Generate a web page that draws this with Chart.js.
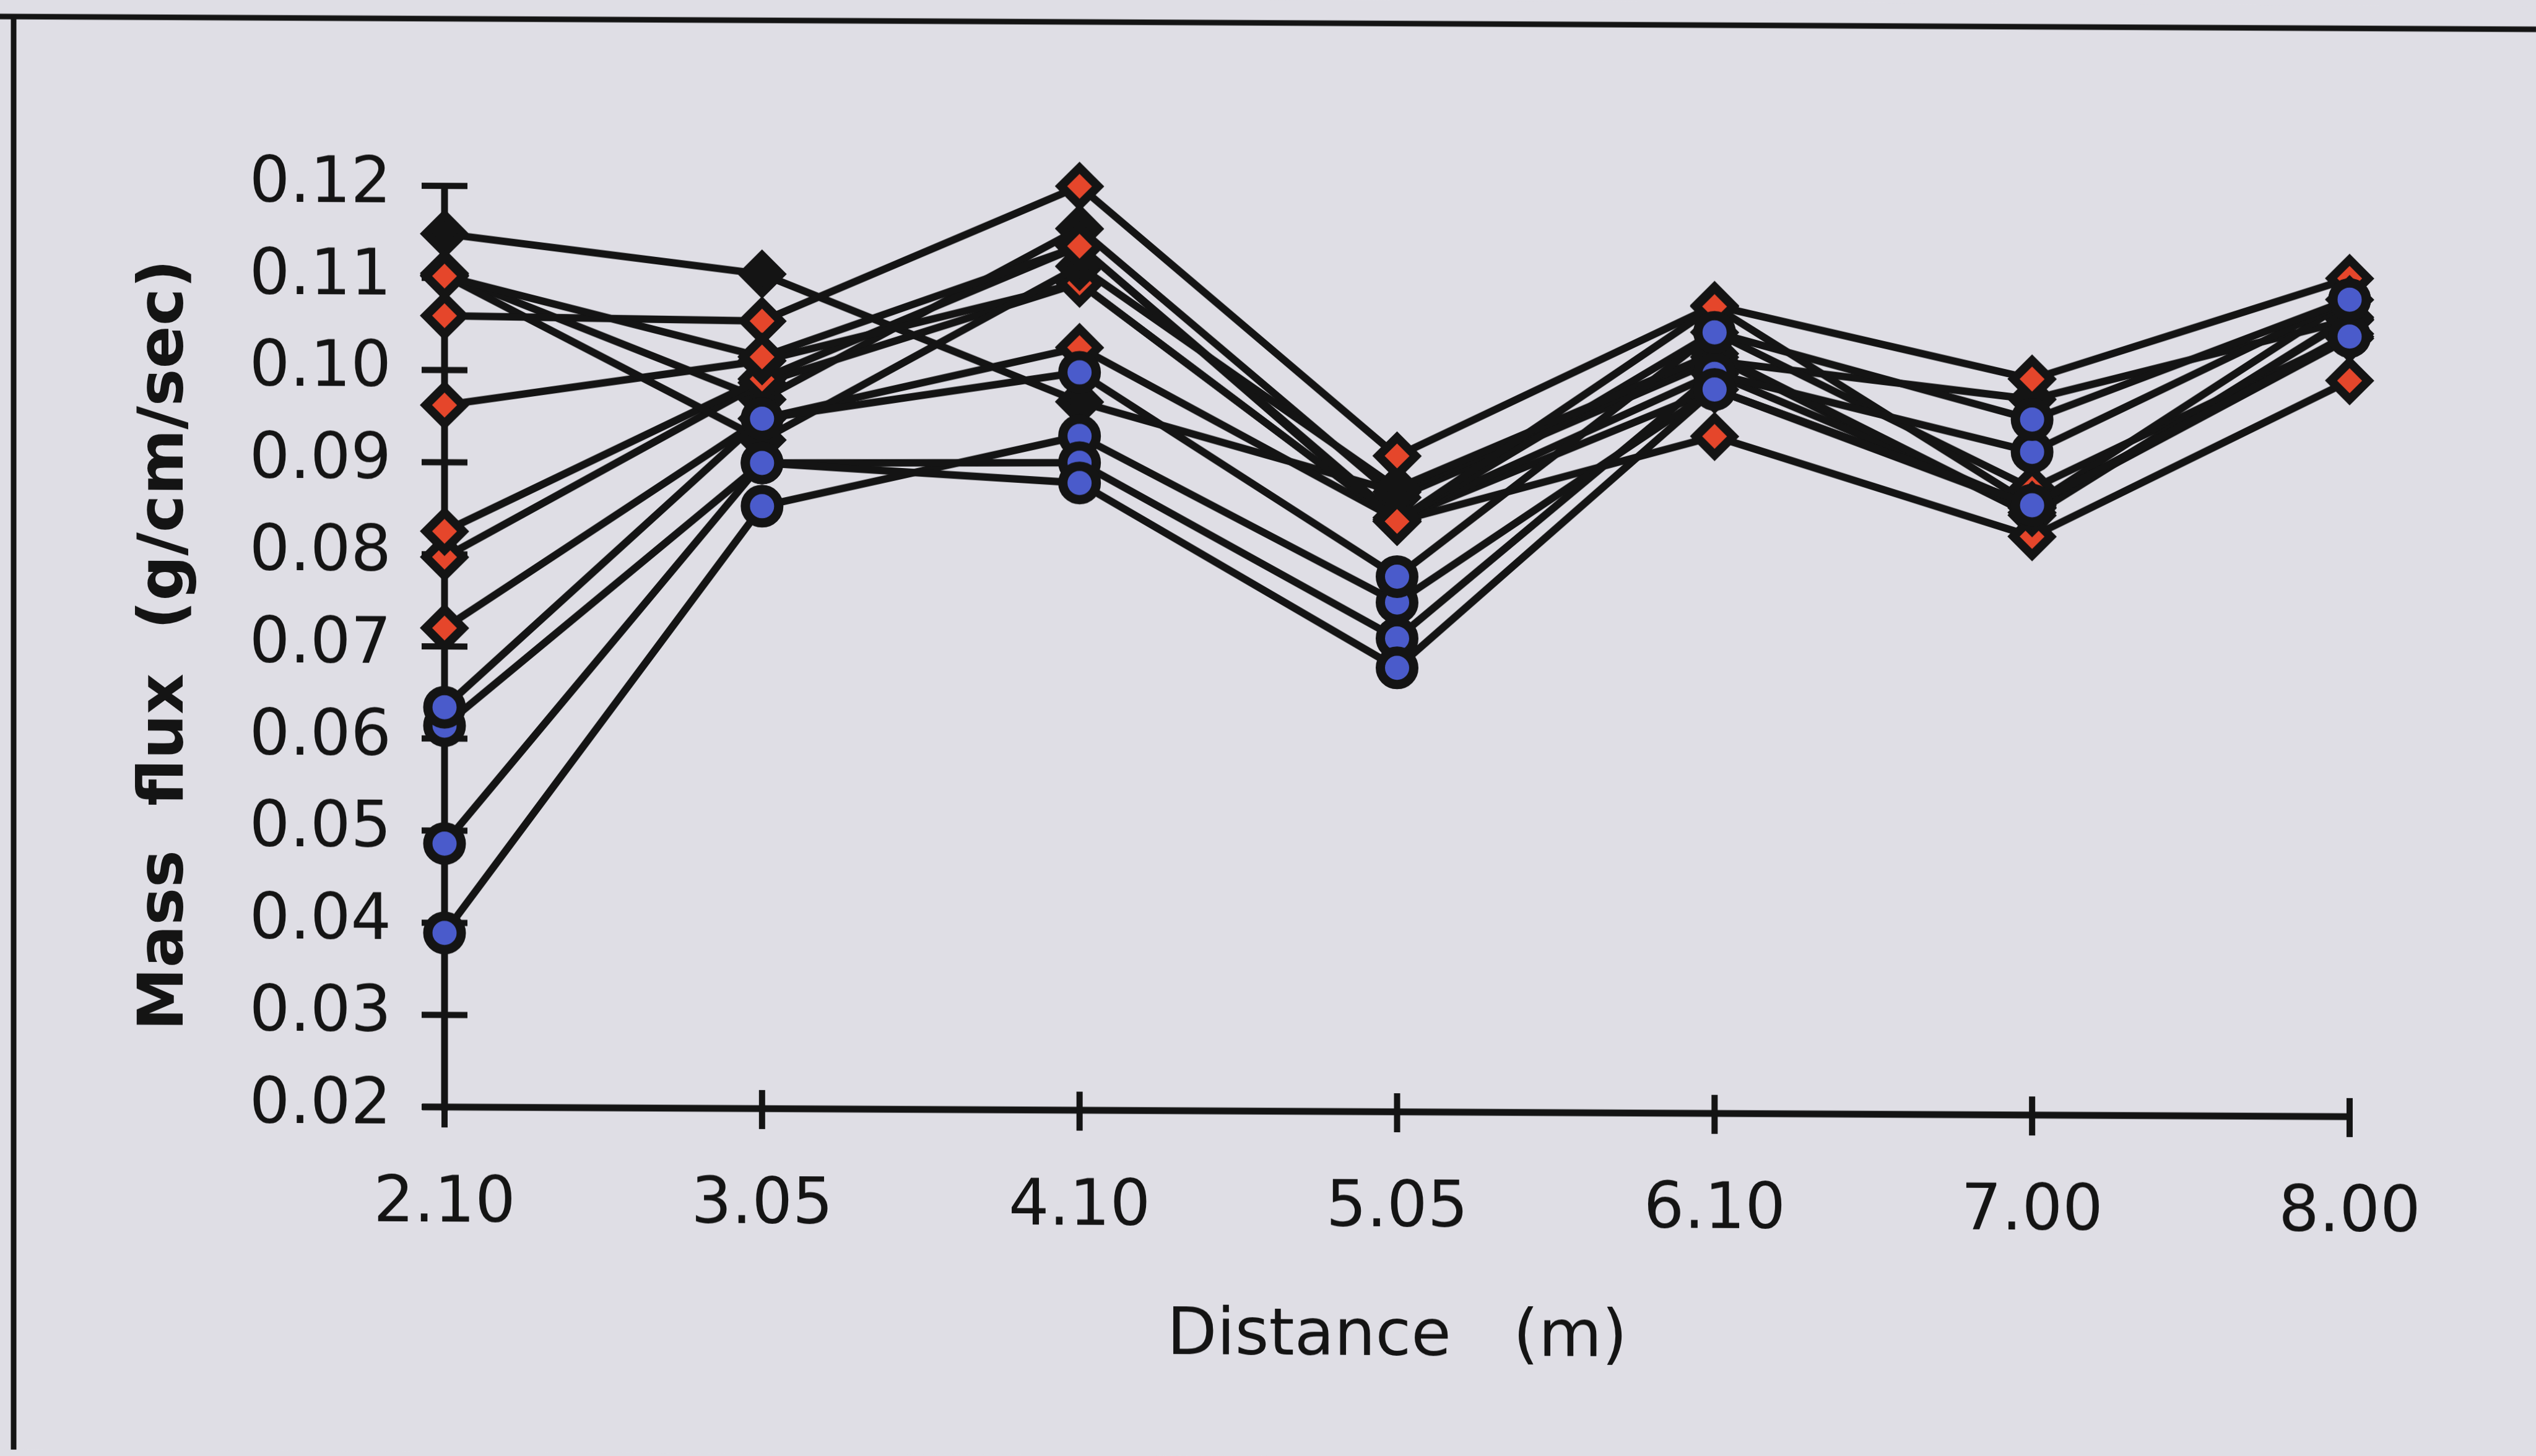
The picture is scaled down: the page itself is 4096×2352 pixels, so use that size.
<!DOCTYPE html>
<html>
<head>
<meta charset="utf-8">
<title>Mass flux vs distance</title>
<script src="https://cdn.jsdelivr.net/npm/chart.js@4.4.1/dist/chart.umd.min.js"></script>
<style>
  html, body { margin: 0; padding: 0; background: #dfdee5; overflow: hidden; }
  #sheet { width: 4096px; height: 2352px; transform: skewY(0.29deg); transform-origin: 50% 50%; }
  canvas { display: block; }
</style>
</head>
<body>
<div id="sheet"><canvas id="chart" width="4096" height="2352"></canvas></div>
<script>
// Distance stations along the bed (m)
const distanceLabels = ['2.10', '3.05', '4.10', '5.05', '6.10', '7.00', '8.00'];

// Mass-flux axis ticks (g/cm/sec)
const yTickValues = [0.02, 0.03, 0.04, 0.05, 0.06, 0.07, 0.08, 0.09, 0.10, 0.11, 0.12];

// Runs plotted with blue circles
const blue1 = [0.0634, 0.0949, 0.1001, 0.0781, 0.1048, 0.0955, 0.1087];
const blue2 = [0.0614, 0.0901, 0.0881, 0.0682, 0.0986, 0.0862, 0.1047];
const blue3 = [0.0486, 0.0901, 0.0903, 0.0714, 0.1003, 0.0920, 0.1087];
const blue4 = [0.0389, 0.0854, 0.0932, 0.0753, 0.0986, 0.0862, 0.1047];

// Runs plotted with red diamonds
const red1 = [0.1102, 0.1016, 0.1138, 0.0841, 0.1076, 0.0862, 0.1087];
const red2 = [0.1059, 0.1055, 0.1203, 0.0912, 0.1077, 0.0999, 0.1110];
const red3 = [0.0962, 0.1012, 0.1098, 0.0841, 0.1048, 0.0880, 0.1047];
const red4 = [0.0825, 0.0992, 0.1138, 0.0845, 0.1003, 0.0860, 0.1050];
const red5 = [0.0797, 0.0988, 0.1098, 0.0841, 0.0935, 0.0828, 0.0999];
const red6 = [0.0720, 0.0949, 0.1028, 0.0843, 0.0986, 0.0859, 0.1045];

// Runs plotted with black diamonds
const black1 = [0.1148, 0.1106, 0.0969, 0.0873, 0.1021, 0.0851, 0.1068];
const black2 = [0.1105, 0.0970, 0.1157, 0.0867, 0.1017, 0.0977, 0.1065];
const black3 = [0.1103, 0.0926, 0.1116, 0.0877, 0.1025, 0.0854, 0.1066];

const INK = '#141414';
const PAPER = '#dfdee5';
const RED = '#e5462b';
const BLUE = '#4a5bcb';
const FONT = "'DejaVu Sans', Verdana, sans-serif";

function run(label, values, kind) {
  const fill = kind === 'blue' ? BLUE : kind === 'red' ? RED : INK;
  const circle = kind === 'blue';
  return {
    label,
    data: values,
    borderColor: INK,
    borderWidth: 12,
    tension: 0,
    fill: false,
    clip: false,
    pointStyle: circle ? 'circle' : 'rectRot',
    pointRadius: circle ? 27 : 30,
    pointHoverRadius: circle ? 27 : 30,
    pointBackgroundColor: fill,
    pointBorderColor: INK,
    pointBorderWidth: circle ? 15 : 14
  };
}

// First dataset is painted last (on top)
const datasets = [
  run('blue1', blue1, 'blue'),
  run('blue2', blue2, 'blue'),
  run('blue3', blue3, 'blue'),
  run('blue4', blue4, 'blue'),
  run('red1', red1, 'red'),
  run('red2', red2, 'red'),
  run('black3', black3, 'black'),
  run('red3', red3, 'red'),
  run('red4', red4, 'red'),
  run('red5', red5, 'red'),
  run('red6', red6, 'red'),
  run('black1', black1, 'black'),
  run('black2', black2, 'black')
];

// Paper, frame rules and the crossing tick marks of both axes
const paperAndAxes = {
  id: 'paperAndAxes',
  beforeDraw(chart) {
    const { ctx, width, height } = chart;
    ctx.save();
    ctx.fillStyle = PAPER;
    ctx.fillRect(0, 0, width, height);
    ctx.strokeStyle = INK;
    ctx.lineWidth = 9;
    ctx.beginPath();
    ctx.moveTo(0, 37);
    ctx.lineTo(width, 37);
    ctx.moveTo(22, 33);
    ctx.lineTo(22, height);
    ctx.stroke();
    ctx.restore();
  },
  beforeDatasetsDraw(chart) {
    const { ctx, chartArea: area, scales: { x, y } } = chart;
    const yBottom = y.getPixelForValue(yTickValues[0]);
    const yTop = y.getPixelForValue(yTickValues[yTickValues.length - 1]);
    const xEnd = x.getPixelForValue(distanceLabels.length - 1);
    ctx.save();
    ctx.strokeStyle = INK;
    ctx.lineCap = 'butt';
    ctx.lineWidth = 11;
    ctx.beginPath();
    ctx.moveTo(area.left, yTop - 5);
    ctx.lineTo(area.left, yBottom + 6);
    ctx.moveTo(area.left - 36, yBottom);
    ctx.lineTo(xEnd + 5, yBottom);
    ctx.stroke();
    ctx.lineWidth = 10;
    ctx.beginPath();
    yTickValues.forEach(v => {
      const py = y.getPixelForValue(v);
      ctx.moveTo(area.left - 37, py);
      ctx.lineTo(area.left + 37, py);
    });
    distanceLabels.forEach((_, i) => {
      const px = x.getPixelForValue(i);
      ctx.moveTo(px, yBottom - 30);
      ctx.lineTo(px, yBottom + 33);
    });
    ctx.stroke();
    ctx.restore();
  }
};

new Chart(document.getElementById('chart'), {
  type: 'line',
  data: { labels: distanceLabels, datasets },
  plugins: [paperAndAxes],
  options: {
    responsive: false,
    animation: false,
    devicePixelRatio: 1,
    events: [],
    layout: { padding: { left: 0, top: 307, right: 301, bottom: 0 } },
    plugins: { legend: { display: false }, tooltip: { enabled: false } },
    scales: {
      x: {
        type: 'category',
        offset: false,
        grid: { display: false, drawTicks: false },
        border: { display: false },
        ticks: {
          color: INK,
          padding: 96,
          maxRotation: 0,
          autoSkip: false,
          font: { family: FONT, size: 103 }
        },
        title: {
          display: true,
          text: 'Distance   (m)',
          color: INK,
          font: { family: FONT, size: 105 },
          padding: { top: 0, bottom: 128 }
        },
        afterFit(scale) { scale.height = 2352 - 1795; }
      },
      y: {
        type: 'linear',
        min: 0.02,
        max: 0.12,
        grid: { display: false, drawTicks: false },
        border: { display: false },
        afterBuildTicks(scale) { scale.ticks = yTickValues.map(v => ({ value: v })); },
        ticks: {
          color: INK,
          padding: 86,
          font: { family: FONT, size: 103 },
          callback: v => Number(v).toFixed(2)
        },
        title: {
          display: true,
          text: 'Mass  flux  (g/cm/sec)',
          color: INK,
          font: { family: FONT, size: 102, weight: 'bold' },
          padding: { top: 207, bottom: 0 }
        },
        afterFit(scale) { scale.width = 718; }
      }
    }
  }
});
</script>
</body>
</html>
